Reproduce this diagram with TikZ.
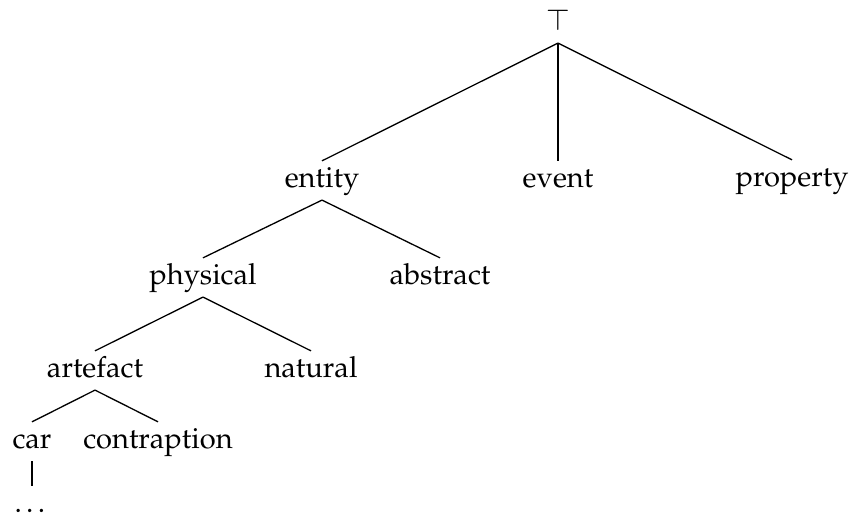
\documentclass[tikz,border=0pt]{standalone}
\usepackage[T1]{fontenc}
\usepackage{mathpazo}
\begin{document}
\begin{tikzpicture}[x=0.344pt,y=-0.344pt,
  lbl/.style={anchor=base,inner xsep=0pt,inner ysep=1.8pt,text height=7pt,text depth=2.5pt,font=\fontsize{10}{12}\selectfont},
  br/.style={line width=0.45pt}]
\useasboundingbox (0,0) rectangle (852,515);
\node[lbl] (top) at (558,30) {$\top$};
\node[lbl] (entity) at (322,187) {entity};
\node[lbl] (event) at (558,187) {event};
\node[lbl] (property) at (792,186) {property};
\node[lbl] (physical) at (203,284) {physical};
\node[lbl] (abstract) at (440,284) {abstract};
\node[lbl] (artefact) at (95,377) {artefact};
\node[lbl] (natural) at (311,377) {natural};
\node[lbl] (car) at (32,448) {car};
\node[lbl] (contraption) at (158,448) {contraption};
\node[lbl] (dots) at (32,512) {\ldots};
\draw[br] (top.south) -- (entity.north);
\draw[br] (top.south) -- (event.north);
\draw[br] (top.south) -- (property.north);
\draw[br] (entity.south) -- (physical.north);
\draw[br] (entity.south) -- (abstract.north);
\draw[br] (physical.south) -- (artefact.north);
\draw[br] (physical.south) -- (natural.north);
\draw[br] (artefact.south) -- (car.north);
\draw[br] (artefact.south) -- (contraption.north);
\draw[br] (car.south) -- (dots.north);
\end{tikzpicture}
\end{document}
